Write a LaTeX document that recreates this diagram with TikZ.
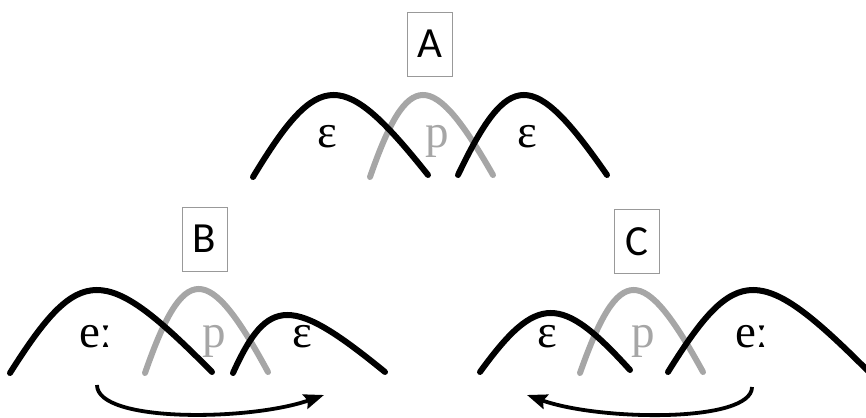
\documentclass[tikz,border=0pt]{standalone}
\usepackage{fontspec}
\setmainfont{Liberation Serif}
\newfontfamily\boxfont{Carlito}
\usetikzlibrary{arrows.meta}
\definecolor{arcgray}{RGB}{166,166,166}
\tikzset{
  hump/.style={line width=6pt, line cap=round, black},
  ghump/.style={line width=6pt, line cap=round, arcgray},
  lbl/.style={anchor=base, inner sep=0pt, font=\fontsize{47}{52}\selectfont},
  glbl/.style={lbl, text=arcgray},
  tag/.style={draw=gray!80, line width=0.9pt, minimum width=45pt, minimum height=64pt, inner sep=0pt, font=\boxfont\fontsize{43}{48}\selectfont},
  movearrow/.style={line width=3.8pt, -{Stealth[length=20pt,width=15pt,inset=3pt]}}
}
% \humpA{style}{x0}{y0}{px}{py}{x1}{y1}
\newcommand{\humpA}[7]{\draw[#1] (#2,#3) .. controls ({#4-12},{#3+(#5-#3)*4/3}) and ({#4+12},{#7+(#5-#7)*4/3}) .. (#6,#7);}
\begin{document}
\begin{tikzpicture}[x=1pt,y=1pt]
\useasboundingbox (0,0) rectangle (866,417);
% ---- A ----
\node[tag] (tA) at (429.5,373) {A};
\humpA{ghump}{370}{240}{420}{322}{493}{242}
\humpA{hump}{253}{240}{331}{322}{428}{242}
\humpA{hump}{458}{242}{521}{322}{607}{242}
\node[lbl] (a1) at (327,269) {ε};
\node[glbl] (a2) at (437,269) {p};
\node[lbl] (a3) at (527,269) {ε};
% ---- B ----
\node[tag] (tB) at (204.5,178) {B};
\humpA{ghump}{145}{44}{196}{128}{268}{45}
\humpA{hump}{10}{44}{92}{127}{212}{45}
\humpA{hump}{233}{44}{280}{102}{385}{45}
\node[lbl] (b1) at (96,69) {eː};
\node[glbl] (b2) at (214,69) {p};
\node[lbl] (b3) at (302,69) {ε};
\coordinate (bs) at (97,32);
\coordinate (be) at (324,22);
\draw[movearrow] (bs) .. controls (97,-6) and (250,-4) .. (be);
% ---- C ----
\node[tag] (tC) at (636.5,175.5) {C};
\humpA{ghump}{580}{44}{631}{127}{703}{45}
\humpA{hump}{480}{45}{549}{104}{630}{47}
\humpA{hump}{668}{45}{748}{127}{870}{44}
\node[lbl] (c1) at (547,69) {ε};
\node[glbl] (c2) at (643,69) {p};
\node[lbl] (c3) at (752,69) {eː};
\coordinate (cs) at (752,30);
\coordinate (ce) at (527,22);
\draw[movearrow] (cs) .. controls (752,-6) and (600,-4) .. (ce);
\end{tikzpicture}
\end{document}
